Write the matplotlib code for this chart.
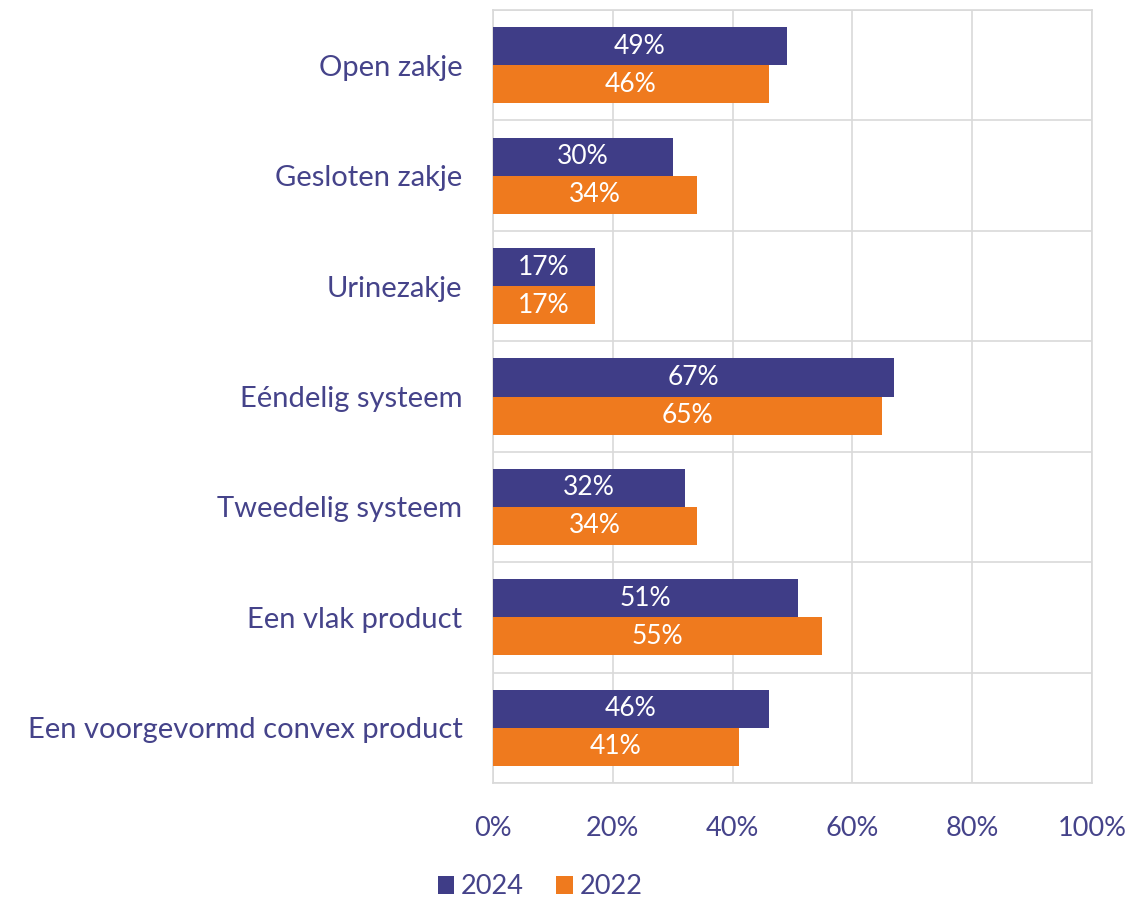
import matplotlib.pyplot as plt
import numpy as np

categories = ['Open zakje', 'Gesloten zakje', 'Urinezakje', 'Eéndelig systeem',
              'Tweedelig systeem', 'Een vlak product', 'Een voorgevormd convex product']
values_2024 = [49, 30, 17, 67, 32, 51, 46]
values_2022 = [46, 34, 17, 65, 34, 55, 41]
ticks = [0, 20, 40, 60, 80, 100]

navy = '#3F3D87'
orange = '#EF7A1E'
text_col = '#45438A'
grid_col = '#D9D9D9'

plt.rcParams['font.family'] = ['Lato', 'DejaVu Sans']

fig = plt.figure(figsize=(11.48, 9.01), dpi=100)
ax = fig.add_axes([493 / 1148, 118 / 901, 599 / 1148, 773 / 901])

y = np.arange(len(categories))
h = 0.345
b1 = ax.barh(y - h / 2, values_2024, height=h, color=navy, label='2024', zorder=3)
b2 = ax.barh(y + h / 2, values_2022, height=h, color=orange, label='2022', zorder=3)

for bars, vals in ((b1, values_2024), (b2, values_2022)):
    for bar, v in zip(bars, vals):
        ax.text(v / 2, bar.get_y() + bar.get_height() / 2, f'{v}%', ha='center', va='center',
                color='white', fontsize=19, zorder=4)

ax.set_xlim(0, 100)
ax.set_ylim(len(categories) - 0.5, -0.5)
ax.set_xticks(ticks)
ax.set_xticklabels([f'{t}%' for t in ticks], color=text_col, fontsize=19.5)
ax.set_yticks(y)
ax.set_yticklabels(categories, color=text_col, fontsize=21)
ax.set_yticks(np.arange(len(categories) + 1) - 0.5, minor=True)
ax.tick_params(axis='x', length=0, pad=24)
ax.tick_params(axis='y', length=0, pad=22)
ax.tick_params(axis='y', which='minor', length=0)
ax.grid(axis='x', color=grid_col, linewidth=1.2, zorder=0)
ax.grid(axis='y', which='minor', color=grid_col, linewidth=1.2, zorder=0)
for s in ax.spines.values():
    s.set_color(grid_col)
    s.set_linewidth(1.2)

fig.legend(handles=[b1, b2], loc='center', bbox_to_anchor=(540 / 1148, 1 - 887 / 901), ncol=2,
           frameon=False, fontsize=19.5, handlelength=0.6, handleheight=0.6, handletextpad=0.25,
           columnspacing=1.2, labelcolor=text_col)

fig.savefig('out.png', dpi=100)
plt.close(fig)
